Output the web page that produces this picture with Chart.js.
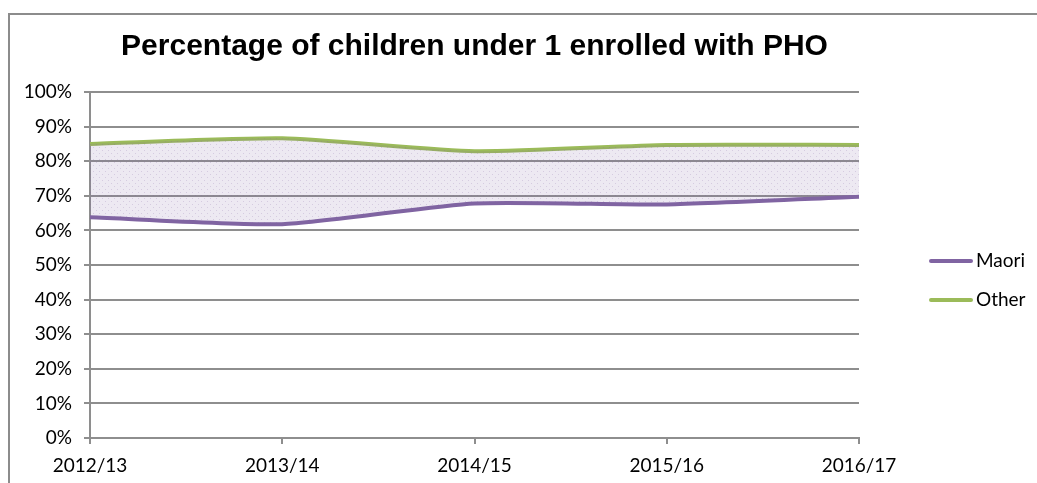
<!DOCTYPE html>
<html>
<head>
<meta charset="utf-8">
<script src="https://cdn.jsdelivr.net/npm/chart.js@4/dist/chart.umd.min.js"></script>
<style>
  body { margin: 0; background: #fff; }
  #wrap { position: relative; width: 1037px; height: 483px; }
</style>
</head>
<body>
<div id="wrap"><canvas id="pho-chart" width="1037" height="483"></canvas></div>
<script>
// data
const years = ['2012/13', '2013/14', '2014/15', '2015/16', '2016/17'];
const maori = [63.8, 61.8, 67.8, 67.5, 69.7];
const other = [85.0, 86.6, 82.9, 84.7, 84.7];

const purple = '#8064a2';
const green = '#9bbb59';
const axisGrey = '#8e8e8e';
const tickFont = { family: 'Lato', size: 19 };

// dotted lavender fill for the gap between the two series
function gapPattern() {
  const c = document.createElement('canvas');
  c.width = 6; c.height = 6;
  const g = c.getContext('2d');
  g.fillStyle = 'rgba(128,100,162,0.14)';
  g.fillRect(0, 0, 6, 6);
  g.fillStyle = 'rgba(128,100,162,0.22)';
  g.fillRect(0, 0, 1, 1);
  g.fillRect(3, 3, 1, 1);
  return g.createPattern(c, 'repeat');
}

// outer frame (left + top edges only are visible)
const frame = {
  id: 'frame',
  beforeDraw(chart) {
    const ctx = chart.ctx;
    ctx.save();
    ctx.strokeStyle = '#8c8c8c';
    ctx.lineWidth = 2;
    ctx.beginPath();
    ctx.moveTo(9, 483);
    ctx.lineTo(9, 14);
    ctx.lineTo(1037, 14);
    ctx.stroke();
    ctx.restore();
  }
};

// legend on the right, line swatch + name
const sideLegend = {
  id: 'sideLegend',
  afterDraw(chart) {
    const ctx = chart.ctx;
    const rows = [261, 300];
    ctx.save();
    chart.data.datasets.forEach((ds, i) => {
      const y = rows[i];
      ctx.strokeStyle = ds.borderColor;
      ctx.lineWidth = 4;
      ctx.lineCap = 'round';
      ctx.beginPath();
      ctx.moveTo(931, y);
      ctx.lineTo(971, y);
      ctx.stroke();
      ctx.fillStyle = '#000';
      ctx.font = '19px Lato';
      ctx.textBaseline = 'middle';
      ctx.fillText(ds.label, 976, y);
    });
    ctx.restore();
  }
};

const config = {
  type: 'line',
  data: {
    labels: years,
    datasets: [{
      label: 'Maori',
      data: maori,
      borderColor: purple,
      borderWidth: 4,
      pointRadius: 0,
      tension: 0.2,
      fill: '+1',
      backgroundColor: gapPattern(),
    }, {
      label: 'Other',
      data: other,
      borderColor: green,
      borderWidth: 4,
      pointRadius: 0,
      tension: 0.2,
      fill: false,
    }],
  },
  options: {
    responsive: false,
    animation: false,
    layout: { padding: { left: 10, right: 178, top: 0, bottom: 0 } },
    plugins: {
      legend: { display: false },
      tooltip: { enabled: false },
      title: {
        display: true,
        fullSize: false,
        text: 'Percentage of children under 1 enrolled with PHO',
        color: '#000',
        font: { family: 'Liberation Sans', size: 30, weight: 'bold', lineHeight: 1.2 },
        padding: { top: 29, bottom: 27 },
      },
    },
    scales: {
      x: {
        offset: false,
        grid: { drawOnChartArea: false, color: axisGrey, lineWidth: 2, tickLength: 6 },
        border: { color: axisGrey, width: 2 },
        ticks: { color: '#000', font: tickFont, padding: 10, maxRotation: 0 },
        afterFit(scale) { scale.height = 45; },
      },
      y: {
        min: 0,
        max: 100,
        grid: { color: axisGrey, lineWidth: 2, tickLength: 6 },
        border: { color: axisGrey, width: 2 },
        ticks: {
          stepSize: 10,
          color: '#000',
          font: tickFont,
          padding: 12,
          callback: v => v + '%',
        },
        afterFit(scale) { scale.width = 80; },
      },
    },
  },
  plugins: [frame, sideLegend],
};

new Chart(document.getElementById('pho-chart'), config);
</script>
</body>
</html>
